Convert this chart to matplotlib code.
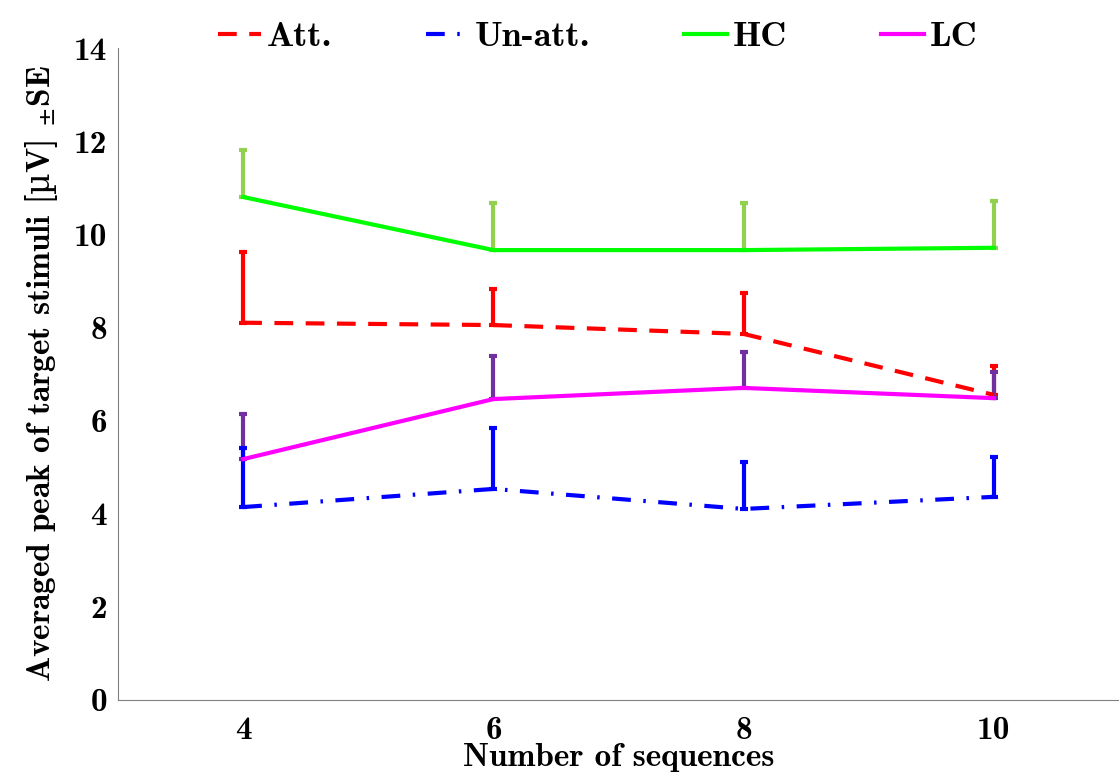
import matplotlib
matplotlib.use("Agg")
import matplotlib.pyplot as plt
import numpy as np

plt.rcParams['font.family'] = ['cmb10', 'DejaVu Serif']
plt.rcParams['axes.unicode_minus'] = False
plt.rcParams['mathtext.fontset'] = 'custom'
plt.rcParams['mathtext.rm'] = 'DejaVu Serif'
plt.rcParams['mathtext.it'] = 'DejaVu Serif:italic'
plt.rcParams['mathtext.bf'] = 'DejaVu Serif:bold'

categorias = ['4', '6', '8', '10']

att = [8.10, 8.05, 7.86, 6.55]
att_err = [1.52, 0.78, 0.88, 0.62]
unatt = [4.14, 4.53, 4.10, 4.36]
unatt_err = [1.27, 1.31, 1.01, 0.86]
hc = [10.80, 9.66, 9.66, 9.71]
hc_err = [1.01, 1.01, 1.01, 1.01]
lc = [5.17, 6.46, 6.70, 6.48]
lc_err = [0.97, 0.93, 0.77, 0.56]

x = np.arange(len(categorias))

fig = plt.figure(figsize=(11.19, 7.75), dpi=100)
ax = fig.add_axes([0.1055, 0.097, 0.8945, 0.841])

def barras(vals, err, color):
    ax.errorbar(x, vals, yerr=[np.zeros(len(vals)), err], fmt='none',
                ecolor=color, elinewidth=3, capsize=3, capthick=3, zorder=2)

barras(hc, hc_err, '#92D050')
barras(att, att_err, '#FF0000')
barras(lc, lc_err, '#7030A0')
barras(unatt, unatt_err, '#0000FF')

l1, = ax.plot(x, att, color='#FF0000', lw=3, ls=(0, (4.5, 3)), label='Att.', zorder=3)
l2, = ax.plot(x, unatt, color='#0000FF', lw=3, ls=(0, (4.5, 3, 0.6, 3)), label='Un-att.', zorder=3)
l3, = ax.plot(x, hc, color='#00FF00', lw=3, label='HC', zorder=3)
l4, = ax.plot(x, lc, color='#FF00FF', lw=3, label='LC', zorder=3)

ax.set_xlim(-0.5, 3.5)
ax.set_ylim(0, 14)
ax.set_xticks(x)
ax.set_xticklabels(categorias)
ax.set_yticks(range(0, 15, 2))
ax.tick_params(length=0, labelsize=24)
ax.tick_params(axis='y', pad=8)
ax.tick_params(axis='x', pad=12)

for s in ['top', 'right']:
    ax.spines[s].set_visible(False)
ax.spines['left'].set_color('#808080')
ax.spines['bottom'].set_color('#808080')

ax.set_xlabel('Number of sequences', fontsize=24, labelpad=-2)
ax.set_ylabel(r'Averaged peak of target stimuli [$\mathrm{µ}$V] $_{\pm}$SE', fontsize=24, labelpad=10)

fig.legend(handles=[l1, l2, l3, l4], loc='upper center', bbox_to_anchor=(0.534, 1.015),
           ncol=4, frameon=False, fontsize=26, handlelength=1.2, handletextpad=0.15,
           columnspacing=2.6)

fig.savefig('out.png', dpi=100)
